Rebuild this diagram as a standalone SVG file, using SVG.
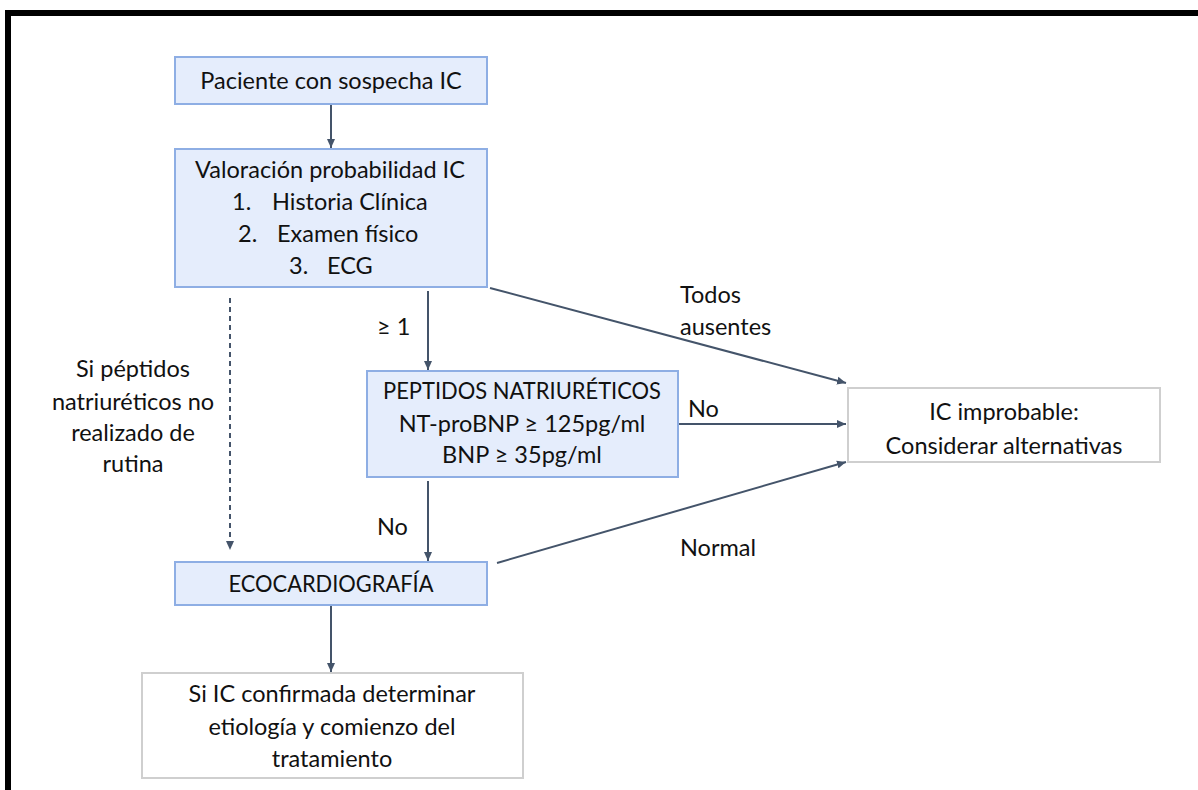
<svg xmlns="http://www.w3.org/2000/svg" width="1198" height="790" viewBox="0 0 1198 790">
  <defs>
    <marker id="arr" markerUnits="userSpaceOnUse" markerWidth="10" markerHeight="10" refX="9" refY="5" orient="auto">
      <path d="M0,1 L9,5 L0,9 Z" fill="#44546a"/>
    </marker>
    <style>
      .blue { fill: #e5edfc; stroke: #8eaee4; stroke-width: 2; }
      .white { fill: #ffffff; stroke: #cfcfcf; stroke-width: 2; }
      .t { font-family: Lato, "Liberation Sans", sans-serif; font-size: 23.5px; fill: #111111; text-anchor: middle; }
      .l { font-family: Lato, "Liberation Sans", sans-serif; font-size: 23.5px; fill: #111111; }
      .c { stroke: #44546a; stroke-width: 2; fill: none; marker-end: url(#arr); }
      .d { stroke: #44546a; stroke-width: 2; fill: none; stroke-dasharray: 5 4; marker-end: url(#arr); }
    </style>
  </defs>
  <rect width="1198" height="790" fill="#ffffff"/>
  <path d="M8,790 L8,13 L1198,13" fill="none" stroke="#000000" stroke-width="6"/>

  <g id="connectors">
    <line class="c" x1="331" y1="104" x2="331" y2="148"/>
    <line class="c" x1="428" y1="291" x2="428" y2="370"/>
    <line class="d" x1="230" y1="298" x2="230" y2="550"/>
    <line class="c" x1="490" y1="288" x2="846" y2="383"/>
    <line class="c" x1="679" y1="424" x2="846" y2="424"/>
    <line class="c" x1="428" y1="481" x2="428" y2="561"/>
    <line class="c" x1="497" y1="563" x2="846" y2="462"/>
    <line class="c" x1="331" y1="605" x2="331" y2="672"/>
    <text class="l" x="680" y="303">Todos</text>
    <text class="l" x="680" y="335">ausentes</text>
    <text class="l" x="377" y="335">≥ 1</text>
    <text class="l" x="688" y="417">No</text>
    <text class="l" x="377" y="535">No</text>
    <text class="l" x="680" y="556">Normal</text>
  </g>

  <g id="note">
    <text class="t" x="133" y="377">Si péptidos</text>
    <text class="t" x="133" y="410">natriuréticos no</text>
    <text class="t" x="133" y="441">realizado de</text>
    <text class="t" x="133" y="472">rutina</text>
  </g>

  <g id="n-paciente">
    <rect class="blue" x="175" y="57" width="312" height="47"/>
    <text class="t" x="331" y="89">Paciente con sospecha IC</text>
  </g>

  <g id="n-valoracion">
    <rect class="blue" x="175" y="149" width="312" height="138"/>
    <text class="t" x="330" y="178">Valoración probabilidad IC</text>
    <text class="l" x="232" y="210">1.</text>
    <text class="l" x="272" y="210">Historia Clínica</text>
    <text class="l" x="238" y="242">2.</text>
    <text class="l" x="277" y="242">Examen físico</text>
    <text class="l" x="289" y="274">3.</text>
    <text class="l" x="327" y="274">ECG</text>
  </g>

  <g id="n-peptidos">
    <rect class="blue" x="367" y="371" width="311" height="106"/>
    <text class="t" x="522" y="399" textLength="278" lengthAdjust="spacingAndGlyphs">PEPTIDOS NATRIURÉTICOS</text>
    <text class="t" x="522" y="432">NT-proBNP ≥ 125pg/ml</text>
    <text class="t" x="522" y="463">BNP ≥ 35pg/ml</text>
  </g>

  <g id="n-improbable">
    <rect class="white" x="848" y="388" width="312" height="74"/>
    <text class="t" x="1004" y="420">IC improbable:</text>
    <text class="t" x="1004" y="454">Considerar alternativas</text>
  </g>

  <g id="n-eco">
    <rect class="blue" x="175" y="562" width="312" height="43"/>
    <text class="t" x="331" y="592" textLength="205" lengthAdjust="spacingAndGlyphs">ECOCARDIOGRAFÍA</text>
  </g>

  <g id="n-confirmada">
    <rect class="white" x="142" y="673" width="381" height="105"/>
    <text class="t" x="332" y="702">Si IC confirmada determinar</text>
    <text class="t" x="332" y="735">etiología y comienzo del</text>
    <text class="t" x="332" y="767">tratamiento</text>
  </g>
</svg>
